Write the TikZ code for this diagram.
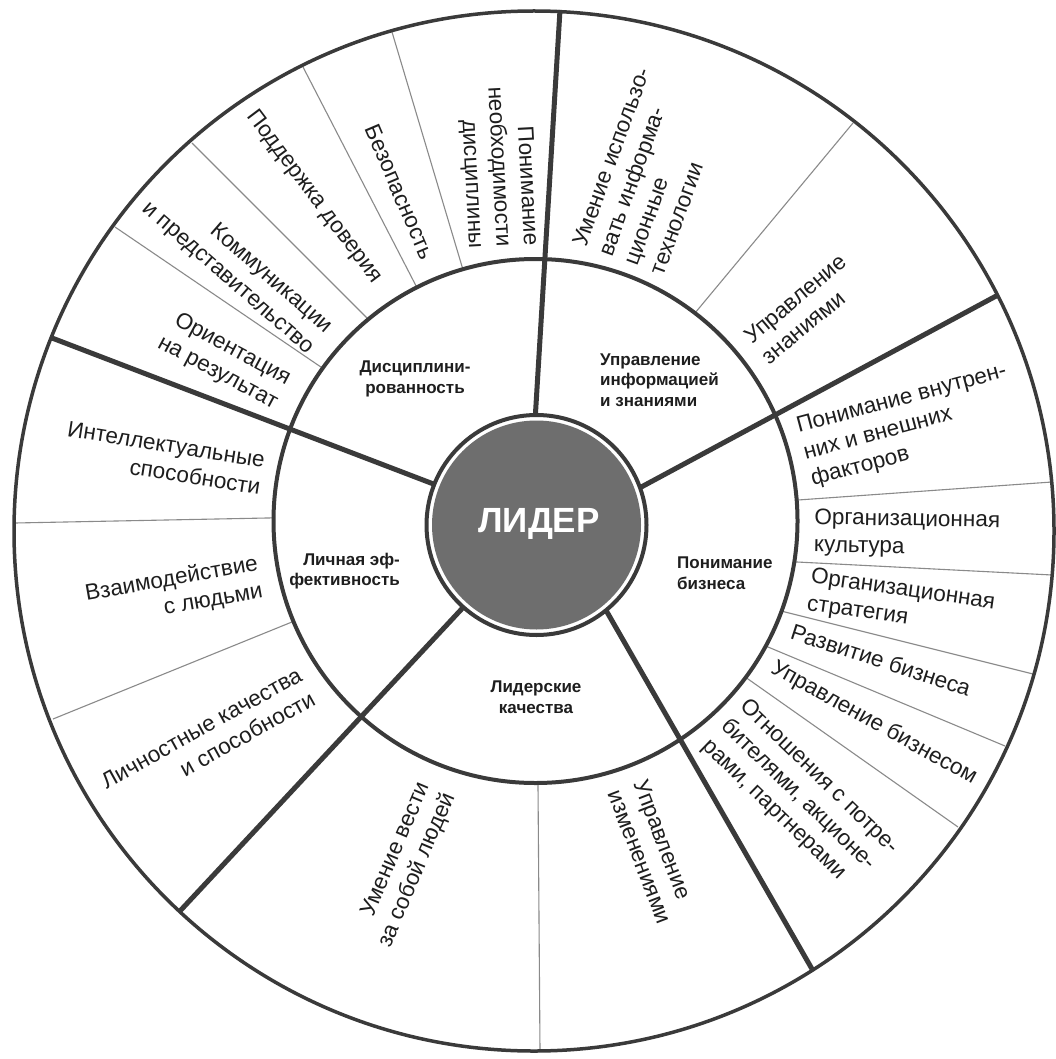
\documentclass[tikz,border=0pt]{standalone}
\usepackage{fontspec}
\setmainfont{Liberation Sans}
\usetikzlibrary{calc}
\definecolor{linec}{HTML}{3A3A3A}
\definecolor{thinc}{HTML}{8A8A8A}
\definecolor{txt}{HTML}{1E1E1E}
\definecolor{leaderfill}{HTML}{6E6E6E}
\begin{document}
\begin{tikzpicture}[x=1pt,y=-1pt,
  outerring/.style={draw=linec, line width=3.5pt},
  midring/.style={draw=linec, line width=4pt, fill=white},
  spoke/.style={draw=linec, line width=5pt},
  thinline/.style={draw=thinc, line width=1.1pt},
  outertext/.style={font=\fontsize{22.5}{27.5}\selectfont, text=txt, inner sep=0pt},
  midtext/.style={font=\bfseries\fontsize{17}{20.5}\selectfont, text=txt, inner sep=0pt},
]
\useasboundingbox (0,0) rectangle (1055,1059);
\fill[white] (0,0) rectangle (1055,1059);

% centres
\coordinate (O) at (534,531);
\coordinate (M) at (535.5,521);
\coordinate (C) at (536.5,525);

% thin division lines (outer ring)
\foreach \n/\xo/\yo/\xi/\yi in {
  t1/392/32/458/253, t2/303/67/413/280, t3/192/143/362/313, t4/115/227/315/363,
  t5/853/123/700/307, t6/1052/482/798/500, t7/1052/575/797/562, t8/1033/674/785/612,
  t9/1005/746/768/647, t10/958/827/748/679, t11/540/1051/538/786,
  t12/15/523/267/518, t13/53/719/287/624}{
  \coordinate (\n out) at (\xo,\yo);
  \coordinate (\n in) at (\xi,\yi);
  \draw[thinline] (\n out) -- ($(\n out)!1.15!(\n in)$);
}

% middle ring
\draw[midring] (M) circle [radius=262];

% thick spokes
\foreach \n/\xo/\yo/\xi/\yi in {
  sA/560/10/535.5/413, sB/998/295/645/485, sC/812/969/607/612,
  sD/180/911/457/614, sE/52/338/423/480}{
  \coordinate (\n out) at (\xo,\yo);
  \coordinate (\n in) at (\xi,\yi);
  \draw[spoke] (\n out) -- ($(\n out)!1.15!(\n in)$);
}

% central circle
\draw[draw=linec, line width=4pt, fill=white] (C) circle [radius=110];
\fill[leaderfill] (C) circle [radius=104.5];
\node[font=\bfseries\fontsize{35}{40}\selectfont, text=white, inner sep=0pt] (leader) at (539,524) {ЛИДЕР};

% outer circle
\draw[outerring] (O) circle [radius=520];

% middle ring labels
\node[midtext, align=center] (mdisc) at (415,379) {Дисциплини-\\рованность};
\node[midtext, align=left, anchor=west] (minfo) at (600,380) {Управление\\информацией\\и знаниями};
\node[midtext, align=left, anchor=west] (mbus) at (677,573) {Понимание\\бизнеса};
\node[midtext, align=center] (mlead) at (536,697) {Лидерские\\качества};
\node[midtext, align=right, anchor=east] (mpers) at (400,571) {Личная эф-\\фективность};

% outer ring labels
\node[outertext, rotate=-87, align=right] (tdisc) at (498,167) {Понимание\\необходимости\\дисциплины};
\node[outertext, rotate=-67] (tbez) at (400,192) {Безопасность};
\node[outertext, rotate=-53] (ttrust) at (314,197) {Поддержка доверия};
\node[outertext, rotate=-41, align=right] (tcomm) at (237,268) {Коммуникации\\и представительство};
\node[outertext, rotate=-28, align=right] (tres) at (224,361) {Ориентация\\на результат};
\node[outertext, rotate=-9, align=right] (tint) at (164,458) {Интеллектуальные\\способности};
\node[outertext, rotate=10, align=right] (tvz) at (174,593) {Взаимодействие\\с людьми};
\node[outertext, rotate=29, align=right] (tlich) at (208,740) {Личностные качества\\и способности};
\node[outertext, rotate=67, align=right] (tlead) at (405,865) {Умение вести\\за собой людей};
\node[outertext, rotate=-69, align=left] (tchg) at (653,852) {Управление\\изменениями};
\node[outertext, rotate=-44, align=left] (trel) at (800,797) {Отношения с потре-\\бителями, акционе-\\рами, партнерами};
\node[outertext, rotate=-29] (tub) at (874,723) {Управление бизнесом};
\node[outertext, rotate=-18] (trb) at (881,660) {Развитие бизнеса};
\node[outertext, rotate=-8, align=left] (tos) at (901,604) {Организационная\\стратегия};
\node[outertext, rotate=-1, align=left] (toc) at (907,534) {Организационная\\культура};
\node[outertext, rotate=15, align=left] (tfac) at (909,426) {Понимание внутрен-\\них и внешних\\факторов};
\node[outertext, rotate=40, align=left] (tkn) at (804,309) {Управление\\знаниями};
\node[outertext, rotate=70, align=left] (tit) at (650,171) {Умение использо-\\вать информа-\\ционные\\технологии};
\end{tikzpicture}
\end{document}
